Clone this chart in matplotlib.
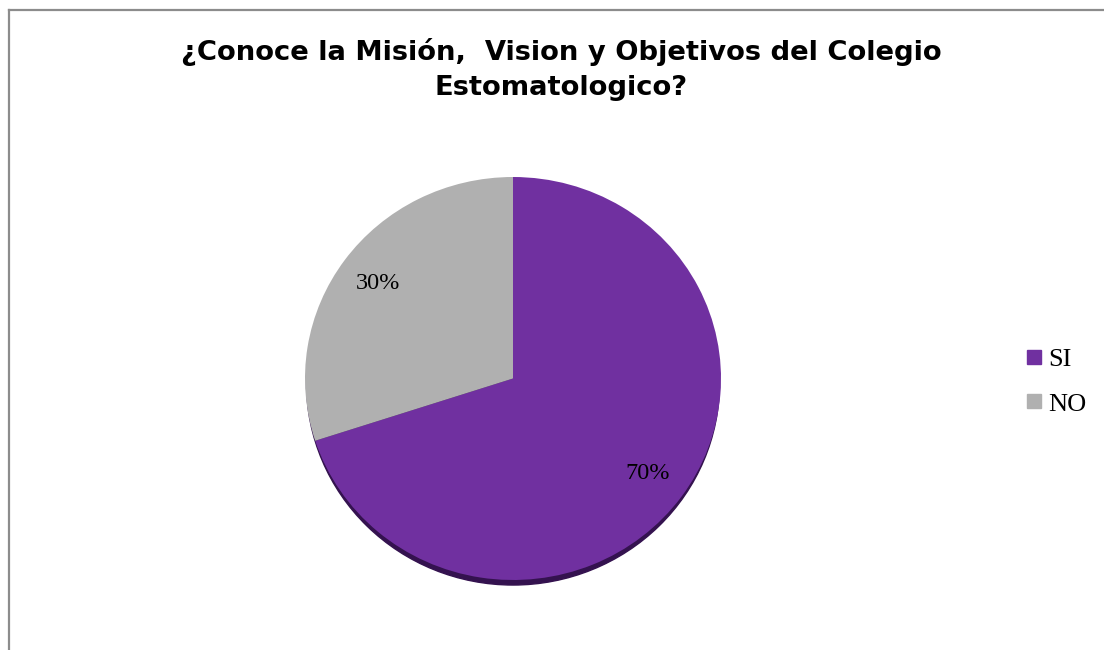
import matplotlib
matplotlib.use('Agg')
import matplotlib.pyplot as plt
from matplotlib.lines import Line2D
from matplotlib.patches import Ellipse

labels = ['SI', 'NO']
values = [70, 30]
colors = ['#7030A0', '#B0B0B0']

W, H = 1104, 650
fig = plt.figure(figsize=(W / 100, H / 100), dpi=100)

# chart frame (only top and left edges fall inside the image)
fig.add_artist(Line2D([9 / W, 1.0], [1 - 10 / H, 1 - 10 / H], color='#8c8c8c', lw=1.6))
fig.add_artist(Line2D([9 / W, 9 / W], [1 - 10 / H, 0.0], color='#8c8c8c', lw=1.6))

title_kw = dict(ha='center', va='center', fontsize=19.7, fontweight='bold',
                family='DejaVu Sans')
fig.text(561 / W, 1 - 52 / H, '¿Conoce la Misión,  Vision y Objetivos del Colegio', **title_kw)
fig.text(561 / W, 1 - 88 / H, 'Estomatologico?', **title_kw)

# pie area: x 305..721, y 177..580 px
ax = fig.add_axes([305 / W, 1 - 580 / H, 416 / W, 403 / H])
shadow = Ellipse((0, -0.025), 1.985, 2.0, color='#34124f', zorder=0)
shadow.set_clip_on(False)
ax.add_patch(shadow)
wedges, texts, autotexts = ax.pie(values, colors=colors, startangle=90,
                                  counterclock=False, autopct='%1.0f%%',
                                  pctdistance=0.8,
                                  textprops=dict(family='Liberation Serif',
                                                 fontsize=17.5, color='black'))
for w in wedges:
    w.set_zorder(1)
ax.set_aspect('auto')
ax.set_xlim(-1, 1)
ax.set_ylim(-1, 1)
ax.axis('off')

handles = [Line2D([0], [0], marker='s', linestyle='none', markersize=10,
                  markerfacecolor=c, markeredgecolor=c) for c in colors]
fig.legend(handles, labels, loc='center left', bbox_to_anchor=(1021 / W, 1 - 381.5 / H),
           frameon=False, prop=dict(family='Liberation Serif', size=19),
           borderaxespad=0, borderpad=0,
           handletextpad=0.05, labelspacing=0.8, handlelength=1.0)

fig.savefig('out.png', dpi=100)
